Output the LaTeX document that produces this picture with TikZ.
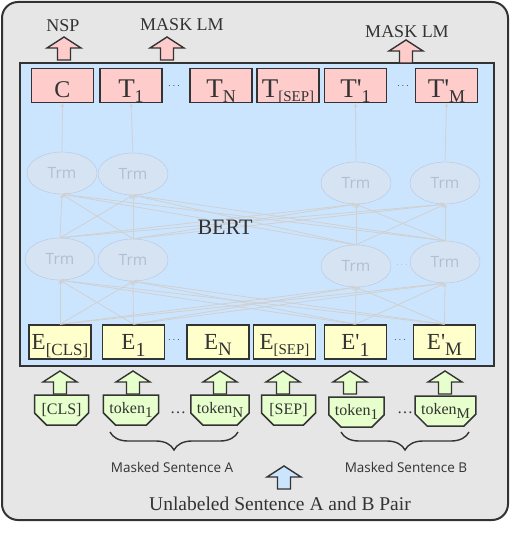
\documentclass[tikz,border=0pt]{standalone}
\usepackage{fontspec}
\setmainfont{Liberation Serif}
\setsansfont{Open Sans}
\usetikzlibrary{shapes.geometric,shapes.misc,decorations.pathreplacing,positioning}

\definecolor{panelgray}{HTML}{E6E6E6}
\definecolor{bertblue}{HTML}{CCE5FF}
\definecolor{outpink}{HTML}{FFCCCC}
\definecolor{embyellow}{HTML}{FFFFCC}
\definecolor{tokgreen}{HTML}{E6FFCC}
\definecolor{trmfill}{HTML}{D6E3F2}
\definecolor{trmline}{HTML}{B4C6DA}
\definecolor{trmtext}{HTML}{B0C0D2}
\definecolor{linkgray}{HTML}{D0D0D0}
\definecolor{edge}{HTML}{333333}

% subindice: bajada, tamano, texto
\newcommand{\lsub}[3]{\raisebox{-#1pt}{\fontsize{#2}{#2}\selectfont #3}}
\newcommand{\pr}{\textquotesingle}
% flecha gruesa hacia arriba: x, punta, relleno
\newcommand{\blockarrow}[3]{%
  \filldraw[draw=edge, line width=1.4pt, fill=#3, line join=miter]
    (#1,#2) -- ++(17,11) -- ++(-10.5,0) -- ++(0,12) -- ++(-13,0)
    -- ++(0,-12) -- ++(-10.5,0) -- cycle;}

\tikzset{
  outbox/.style={draw=edge, line width=1.6pt, fill=outpink, minimum width=62pt,
    minimum height=34pt, inner xsep=1pt, inner ysep=0pt, text height=29pt,
    text depth=5pt, font=\fontsize{27}{27}\selectfont, text=edge},
  embbox/.style={draw=edge, line width=1.6pt, fill=embyellow, minimum width=62pt,
    minimum height=34pt, inner xsep=1pt, inner ysep=0pt, text height=24pt,
    text depth=10pt, font=\fontsize{23}{23}\selectfont, text=edge},
  trm/.style={ellipse, draw=trmline, fill=trmfill, minimum width=70pt,
    minimum height=42pt, inner sep=0pt, font=\sffamily\fontsize{15.5}{15.5}\selectfont,
    text=trmtext},
  token/.style={chamfered rectangle, chamfered rectangle corners={south west,south east},
    chamfered rectangle xsep=6pt, chamfered rectangle ysep=6pt, draw=edge,
    line width=1.5pt, fill=tokgreen, minimum width=54pt, minimum height=30pt,
    inner sep=0pt, font=\fontsize{16}{16}\selectfont, text=edge},
  headlabel/.style={font=\fontsize{18}{18}\selectfont, text=edge},
  link/.style={draw=linkgray, line width=0.8pt, -stealth},
  brace/.style={draw=edge, line width=1.4pt, decorate,
    decoration={brace, mirror, amplitude=18pt}},
}

\begin{document}
\begin{tikzpicture}[x=1pt,y=-1pt]
  \useasboundingbox (0,0) rectangle (510,556);

  % Fondo
  \filldraw[draw=edge, line width=2pt, fill=panelgray, rounded corners=16pt] (2,2) rectangle (508,520);
  \filldraw[draw=edge, line width=1.6pt, fill=bertblue] (20,63) rectangle (494,366);

  % Salidas
  \node[outbox] (tc) at (62.5,85.5) {\fontsize{24}{24}\selectfont C};
  \node[outbox] (t1) at (131,85.5) {T\lsub{5}{18}{1}};
  \node[outbox] (tn) at (221,85.5) {T\lsub{5}{18}{N}};
  \node[outbox] (tsep) at (288,85.5) {T\lsub{4}{15}{[SEP]}};
  \node[outbox] (tp1) at (355.5,85.5) {T\pr\lsub{5}{18}{1}};
  \node[outbox] (tpm) at (446.5,85.5) {T\pr\lsub{5}{18}{M}};
  \node[text=edge] (dtop1) at (174,86) {$\cdots$};
  \node[text=edge] (dtop2) at (403,86) {$\cdots$};

  % Capas Trm
  \node[trm] (ua) at (62,173) {Trm};
  \node[trm] (ub) at (133,174) {Trm};
  \node[trm] (uc) at (356,183) {Trm};
  \node[trm] (ud) at (445,183) {Trm};
  \node[trm] (la) at (60,259) {Trm};
  \node[trm] (lb) at (133,260) {Trm};
  \node[trm] (lc) at (356,266) {Trm};
  \node[trm] (ld) at (445,262) {Trm};
  \node[text=trmtext] (dtrm) at (402,265) {$\cdots$};

  % Embeddings
  \node[embbox] (ecls) at (60,342) {E\lsub{6}{17}{[CLS]}};
  \node[embbox] (e1) at (133.5,342) {E\lsub{7}{20}{1}};
  \node[embbox] (en) at (218,342) {E\lsub{6}{19}{N}};
  \node[embbox] (esep) at (284.5,342) {E\lsub{5}{15}{[SEP]}};
  \node[embbox] (ep1) at (355.5,342) {E\pr\lsub{7}{20}{1}};
  \node[embbox] (epm) at (444.5,342) {E\pr\lsub{6}{19}{M}};
  \node[text=edge] (demb1) at (174,340) {$\cdots$};
  \node[text=edge] (demb2) at (400,340) {$\cdots$};

  % Conexiones
  \foreach \e in {ecls,e1,ep1,epm}
    \foreach \t in {la,lb,lc,ld}
      \draw[link] (\e.north) -- (\t.south);
  \foreach \s in {la,lb,lc,ld}
    \foreach \t in {ua,ub,uc,ud}
      \draw[link] (\s.north) -- (\t.south);
  \foreach \s/\t in {ua/tc,ub/t1,uc/tp1,ud/tpm}
    \draw[link] (\s.north) -- (\t.south);
  \node[font=\fontsize{22}{22}\selectfont, text=edge] (bert) at (225,227) {BERT};

  % Tokens
  \node[token] (kcls) at (61.5,410) {[CLS]};
  \node[token] (k1) at (131,410) {token\lsub{4}{15}{1}};
  \node[token] (kn) at (220,410) {token\lsub{4}{15}{N}};
  \node[token] (ksep) at (288.5,410) {[SEP]};
  \node[token] (kp1) at (356.5,412) {token\lsub{4}{15}{1}};
  \node[token] (km) at (445.5,411) {token\lsub{4}{15}{M}};
  \node[text=edge, font=\fontsize{16}{16}\selectfont] (dtok1) at (178,413) {\dots};
  \node[text=edge, font=\fontsize{16}{16}\selectfont] (dtok2) at (405,413) {\dots};

  % Flechas gruesas
  \blockarrow{64}{37}{outpink}
  \blockarrow{167}{37}{outpink}
  \blockarrow{406}{40}{outpink}
  \foreach \x in {60,133,220,283,350,445}{
    \blockarrow{\x}{371}{tokgreen}
  }
  \blockarrow{284}{466}{bertblue}

  % Etiquetas
  \node[headlabel] (nsp) at (63,26) {NSP};
  \node[headlabel] (mlma) at (182,25) {MASK LM};
  \node[headlabel] (mlmb) at (407,32) {MASK LM};

  % Llaves
  \coordinate (bal) at (110,432);
  \coordinate (bar) at (238,432);
  \coordinate (bbl) at (341,432);
  \coordinate (bbr) at (469,432);
  \draw[brace] (bal) -- (bar);
  \draw[brace] (bbl) -- (bbr);
  \node[font=\sffamily\fontsize{13.5}{13.5}\selectfont, text=edge] (senta) at (172,467) {Masked Sentence A};
  \node[font=\sffamily\fontsize{13.5}{13.5}\selectfont, text=edge] (sentb) at (406,467) {Masked Sentence B};
  \node[font=\fontsize{19.5}{19.5}\selectfont, text=edge] (pair) at (280,504) {Unlabeled Sentence A and B Pair};
\end{tikzpicture}
\end{document}
